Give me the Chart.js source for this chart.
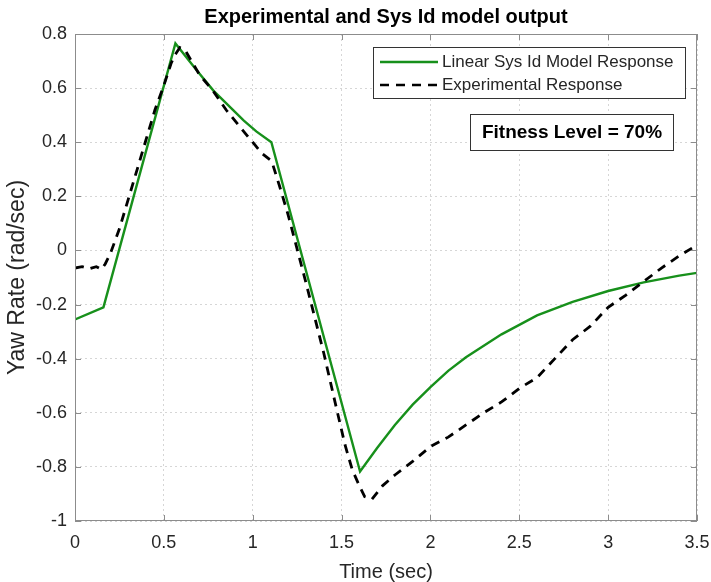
<!DOCTYPE html>
<html>
<head>
<meta charset="utf-8">
<script src="https://cdn.jsdelivr.net/npm/chart.js@4/dist/chart.umd.min.js"></script>
<style>
  html, body { margin: 0; padding: 0; background: #fff; }
  #wrap { width: 711px; height: 582px; }
</style>
</head>
<body>
<div id="wrap"><canvas id="c" width="711" height="582"></canvas></div>
<script>
const modelTime = [0, 0.16, 0.565, 0.68, 0.78, 0.88, 0.95, 1.02, 1.105, 1.604, 1.7, 1.8, 1.9, 2.0, 2.1, 2.2, 2.4, 2.6, 2.8, 3.0, 3.2, 3.4, 3.5]
const modelYaw = [-0.255, -0.21, 0.765, 0.67, 0.59, 0.525, 0.48, 0.44, 0.40, -0.817, -0.73, -0.645, -0.57, -0.505, -0.445, -0.395, -0.31, -0.24, -0.19, -0.15, -0.118, -0.093, -0.083]

const expTime = [0, 0.04, 0.08, 0.12, 0.15, 0.17, 0.2, 0.25, 0.3, 0.35, 0.4, 0.45, 0.5, 0.54, 0.56, 0.59, 0.62, 0.7, 0.78, 0.85, 0.93, 1.0, 1.05, 1.107, 1.15, 1.2, 1.3, 1.4, 1.47, 1.52, 1.56, 1.6, 1.63, 1.67, 1.73, 1.8, 1.9, 2.0, 2.1, 2.2, 2.3, 2.4, 2.5, 2.6, 2.7, 2.8, 2.9, 3.0, 3.1, 3.2, 3.3, 3.4, 3.5]
const expYaw = [-0.065, -0.06, -0.068, -0.06, -0.07, -0.05, -0.01, 0.08, 0.19, 0.3, 0.41, 0.52, 0.61, 0.69, 0.72, 0.75, 0.74, 0.65, 0.587, 0.52, 0.455, 0.40, 0.36, 0.33, 0.24, 0.13, -0.12, -0.38, -0.58, -0.72, -0.81, -0.87, -0.91, -0.92, -0.87, -0.83, -0.78, -0.725, -0.69, -0.645, -0.6, -0.56, -0.51, -0.47, -0.4, -0.33, -0.28, -0.21, -0.165, -0.115, -0.065, -0.02, 0.02]

const seriesNames = ["Linear Sys Id Model Response", "Experimental Response"]
const titleText = "Experimental and Sys Id model output"
const noteText = "Fitness Level = 70%"

const FONT = "'Liberation Sans', Arial, sans-serif"
const TXT = "#262626"
const GREEN = "#17901b"

const toPoints = (xs, ys) => xs.map((x, i) => ({ x: x, y: ys[i] }))

// frame, inward ticks, title, legend and note box
const extras = {
	id: "extras",
	afterDraw(chart) {
		const { ctx, chartArea: a, scales } = chart
		ctx.save()
		ctx.strokeStyle = "#8c8c8c"
		ctx.lineWidth = 1
		ctx.strokeRect(a.left + 0.5, a.top + 0.5, a.width - 1, a.height - 1)
		ctx.beginPath()
		scales.x.ticks.forEach((t) => {
			const px = Math.round(scales.x.getPixelForValue(t.value)) + 0.5
			ctx.moveTo(px, a.bottom); ctx.lineTo(px, a.bottom - 6)
			ctx.moveTo(px, a.top); ctx.lineTo(px, a.top + 6)
		})
		scales.y.ticks.forEach((t) => {
			const py = Math.round(scales.y.getPixelForValue(t.value)) + 0.5
			ctx.moveTo(a.left, py); ctx.lineTo(a.left + 6, py)
			ctx.moveTo(a.right, py); ctx.lineTo(a.right - 6, py)
		})
		ctx.stroke()

		ctx.fillStyle = "#000"
		ctx.font = "bold 20px " + FONT
		ctx.textAlign = "center"
		ctx.textBaseline = "middle"
		ctx.fillText(titleText, (a.left + a.right) / 2, 17)

		// legend
		ctx.fillStyle = "#fff"
		ctx.fillRect(373, 47, 312, 51)
		ctx.strokeStyle = "#333"
		ctx.strokeRect(373.5, 47.5, 312, 51)
		ctx.lineWidth = 2.5
		ctx.strokeStyle = GREEN
		ctx.beginPath(); ctx.moveTo(380, 62); ctx.lineTo(438, 62); ctx.stroke()
		ctx.strokeStyle = "#000"
		ctx.setLineDash([9, 7])
		ctx.beginPath(); ctx.moveTo(380, 85); ctx.lineTo(438, 85); ctx.stroke()
		ctx.setLineDash([])
		ctx.fillStyle = TXT
		ctx.font = "17px " + FONT
		ctx.textAlign = "left"
		ctx.fillText(seriesNames[0], 442, 62)
		ctx.fillText(seriesNames[1], 442, 85)

		// note
		ctx.lineWidth = 1
		ctx.fillStyle = "#fff"
		ctx.fillRect(470, 114, 203, 36)
		ctx.strokeStyle = "#333"
		ctx.strokeRect(470.5, 114.5, 203, 36)
		ctx.fillStyle = "#000"
		ctx.font = "bold 19px " + FONT
		ctx.textAlign = "center"
		ctx.fillText(noteText, 572, 133)
		ctx.restore()
	},
}

const config = {
	type: "line",
	data: {
		datasets: [
			{
				label: seriesNames[1],
				data: toPoints(expTime, expYaw),
				borderColor: "#000",
				borderWidth: 2.8,
				borderDash: [9, 7],
				pointRadius: 0,
				tension: 0,
			},
			{
				label: seriesNames[0],
				data: toPoints(modelTime, modelYaw),
				borderColor: GREEN,
				borderWidth: 2.4,
				pointRadius: 0,
				tension: 0,
			},
		],
	},
	options: {
		responsive: false,
		animation: false,
		events: [],
		layout: { padding: { top: 34, right: 0, left: 0, bottom: 0 } },
		plugins: { legend: { display: false }, title: { display: false }, tooltip: { enabled: false } },
		scales: {
			x: {
				type: "linear",
				min: 0,
				max: 3.5,
				afterFit: (s) => { s.height = 61; s.paddingRight = 14; s.paddingLeft = 0 },
				ticks: {
					stepSize: 0.5,
					padding: 11,
					color: TXT,
					font: { family: FONT, size: 18 },
					maxRotation: 0,
					callback: (v) => String(Math.round(v * 10) / 10),
				},
				grid: { color: "#d6d6d6", drawTicks: false },
				border: { display: false, dash: [2, 3] },
				title: { display: true, text: "Time (sec)", color: TXT, font: { family: FONT, size: 20, lineHeight: 1 }, padding: { top: 0, bottom: 0 } },
			},
			y: {
				min: -1,
				max: 0.8,
				afterFit: (s) => { s.width = 75; s.paddingTop = 0; s.paddingBottom = 0 },
				ticks: {
					stepSize: 0.2,
					padding: 8,
					color: TXT,
					font: { family: FONT, size: 18 },
					callback: (v) => String(Math.round(v * 10) / 10),
				},
				grid: { color: "#d6d6d6", drawTicks: false },
				border: { display: false, dash: [2, 3] },
				title: { display: true, text: "Yaw Rate (rad/sec)", color: TXT, font: { family: FONT, size: 23 }, padding: { top: 4, bottom: 0 } },
			},
		},
	},
	plugins: [extras],
}

new Chart(document.getElementById("c"), config)
</script>
</body>
</html>
